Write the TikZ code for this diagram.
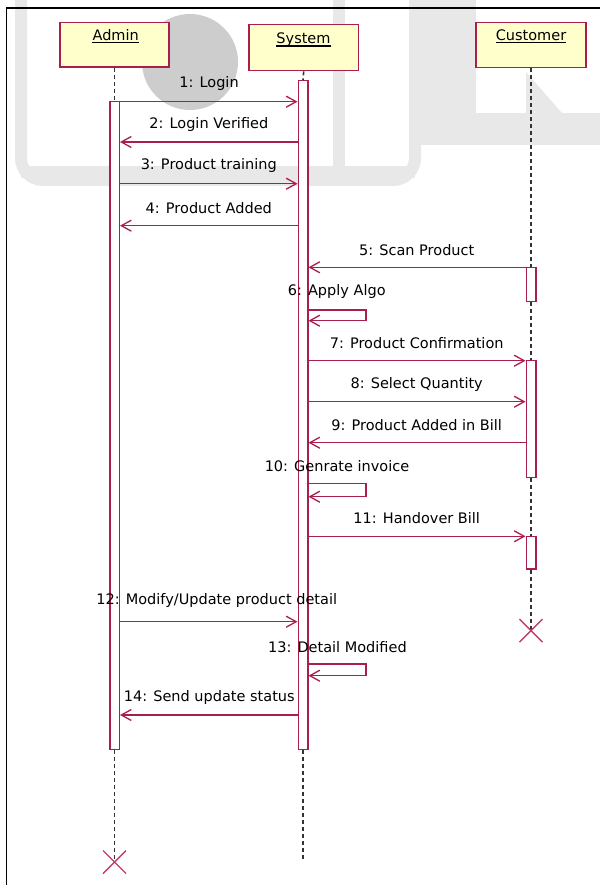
\documentclass[tikz,border=0pt]{standalone}
\usepackage{fontspec}
\setmainfont{DejaVu Sans}
\usetikzlibrary{arrows.meta}
\definecolor{umlred}{RGB}{170,30,78}
\definecolor{killred}{RGB}{195,60,110}
\definecolor{umlfill}{RGB}{255,255,204}
\definecolor{wmlight}{RGB}{232,232,232}
\definecolor{wmdark}{RGB}{205,205,205}
\begin{document}
\begin{tikzpicture}[x=1pt,y=-1pt,
  lbl/.style={font=\fontsize{14.5}{16}\selectfont, text=black, inner sep=0pt},
  objlbl/.style={font=\fontsize{14.5}{16}\selectfont, text=black, inner sep=0pt, anchor=base},
  obj/.style={draw=umlred, fill=umlfill, line width=1.7pt, inner sep=0pt},
  act/.style={draw=umlred, fill=white, line width=1.5pt, minimum width=9.5pt, inner sep=0pt},
  msg/.style={draw=umlred, line width=1.5pt, -{Straight Barb[length=10pt,width=11pt,line width=1.3pt]}},
  life/.style={draw=black!80, line width=1.6pt, dash pattern=on 4pt off 3pt},
  kill/.style={draw=killred, line width=1.4pt},
  wm/.style={draw=wmlight}]
\useasboundingbox (0,0) rectangle (600,885);
\fill[white] (0,0) rectangle (600,885);
% watermark
\draw[wm, line width=12pt, rounded corners=22pt] (21,-5) -- (21,180) -- (415,180) -- (415,-5);
\draw[wm, line width=12pt] (21,172) -- (415,172);
\draw[wm, line width=12pt] (339,-5) -- (339,176);
\fill[wmlight] (421,0) rectangle (476,145);
\fill[wmlight] (421,113) rectangle (600,145);
\fill[wmlight] (526,72) -- (562,113) -- (526,113) -- cycle;
\fill[wmdark] (190,62) circle[radius=48pt];
% frame
\draw[black, line width=1.8pt] (6.5,885) -- (6.5,8) -- (600,8);
% objects
\node[obj, minimum width=109pt, minimum height=44.5pt] (admin) at (114.5,44.75) {};
\node[obj, minimum width=109.5pt, minimum height=46pt] (system) at (303.7,47.5) {};
\node[obj, minimum width=110pt, minimum height=45pt] (customer) at (531,45) {};
\node[objlbl] (adminlbl) at (115.7,40.3) {Admin};
\node[objlbl] (systemlbl) at (303.5,43.6) {System};
\node[objlbl] (customerlbl) at (531,40.3) {Customer};
\draw[line width=1.3pt] ([yshift=-2.4pt]adminlbl.base west) -- ([yshift=-2.4pt]adminlbl.base east);
\draw[line width=1.3pt] ([yshift=-2.4pt]systemlbl.base west) -- ([yshift=-2.4pt]systemlbl.base east);
\draw[line width=1.3pt] ([yshift=-2.4pt]customerlbl.base west) -- ([yshift=-2.4pt]customerlbl.base east);
% activations
\node[act, minimum height=647.6pt] (aA) at (114.5,425.5) {};
\node[act, minimum height=668.6pt] (sA) at (303,415) {};
\node[act, minimum height=34.4pt] (cA1) at (531,284.5) {};
\node[act, minimum height=116.6pt] (cA2) at (531,419) {};
\node[act, minimum height=32.7pt] (cA3) at (531,552.65) {};
% lifelines
\coordinate (aEnd) at (114.5,862);
\coordinate (sEnd) at (303,862);
\coordinate (cEnd) at (531,630.7);
\draw[life] (admin.south) -- (aA.north);
\draw[life] (system.south) -- (sA.north);
\draw[life] (customer.south) -- (cA1.north);
\draw[life] (cA1.south) -- (cA2.north);
\draw[life] (cA2.south) -- (cA3.north);
\draw[life] (cA3.south) -- (cEnd);
\draw[life] (aA.south) -- (aEnd);
\draw[life] (sA.south) -- (sEnd);
\draw[kill] ([xshift=-11.5pt,yshift=11.5pt]aEnd) -- ([xshift=11.5pt,yshift=-11.5pt]aEnd);
\draw[kill] ([xshift=-11.5pt,yshift=-11.5pt]aEnd) -- ([xshift=11.5pt,yshift=11.5pt]aEnd);
\draw[kill] ([xshift=-11.5pt,yshift=11.5pt]cEnd) -- ([xshift=11.5pt,yshift=-11.5pt]cEnd);
\draw[kill] ([xshift=-11.5pt,yshift=-11.5pt]cEnd) -- ([xshift=11.5pt,yshift=11.5pt]cEnd);
% message rows
\coordinate (y1) at (0,101.7);
\coordinate (y2) at (0,142);
\coordinate (y3) at (0,183.7);
\coordinate (y4) at (0,225.7);
\coordinate (y5) at (0,267.3);
\coordinate (y6a) at (0,310);
\coordinate (y6b) at (0,320.7);
\coordinate (y7) at (0,360.7);
\coordinate (y8) at (0,401.7);
\coordinate (y9) at (0,442.7);
\coordinate (y10a) at (0,483.3);
\coordinate (y10b) at (0,496.7);
\coordinate (y11) at (0,536.3);
\coordinate (y12) at (0,621.7);
\coordinate (y13a) at (0,664);
\coordinate (y13b) at (0,675.7);
\coordinate (y14) at (0,715);
\coordinate (xself) at (366,0);
% messages
\draw[msg] (aA.east |- y1) -- (sA.west |- y1);
\draw[msg] (sA.west |- y2) -- (aA.east |- y2);
\draw[msg] (aA.east |- y3) -- (sA.west |- y3);
\draw[msg] (sA.west |- y4) -- (aA.east |- y4);
\draw[msg] (cA1.west |- y5) -- (sA.east |- y5);
\draw[msg] (sA.east |- y6a) -- (xself |- y6a) -- (xself |- y6b) -- (sA.east |- y6b);
\draw[msg] (sA.east |- y7) -- (cA2.west |- y7);
\draw[msg] (sA.east |- y8) -- (cA2.west |- y8);
\draw[msg] (cA2.west |- y9) -- (sA.east |- y9);
\draw[msg] (sA.east |- y10a) -- (xself |- y10a) -- (xself |- y10b) -- (sA.east |- y10b);
\draw[msg] (sA.east |- y11) -- (cA3.west |- y11);
\draw[msg] (aA.east |- y12) -- (sA.west |- y12);
\draw[msg] (sA.east |- y13a) -- (xself |- y13a) -- (xself |- y13b) -- (sA.east |- y13b);
\draw[msg] (sA.west |- y14) -- (aA.east |- y14);
% labels
\node[lbl] (l1) at (209,84) {1: Login};
\node[lbl] (l2) at (208.8,125) {2: Login Verified};
\node[lbl] (l3) at (208.8,166) {3: Product training};
\node[lbl] (l4) at (208.8,208.3) {4: Product Added};
\node[lbl] (l5) at (416.7,250) {5: Scan Product};
\node[lbl] (l6) at (336.7,291) {6: Apply Algo};
\node[lbl] (l7) at (416.7,343) {7: Product Confirmation};
\node[lbl] (l8) at (416.7,384) {8: Select Quantity};
\node[lbl] (l9) at (416.7,425) {9: Product Added in Bill};
\node[lbl] (l10) at (337,465.7) {10: Genrate invoice};
\node[lbl] (l11) at (416.7,518.3) {11: Handover Bill};
\node[lbl] (l12) at (216.7,600.7) {12: Modify/Update product detail};
\node[lbl] (l13) at (337.4,646.7) {13: Detail Modified};
\node[lbl] (l14) at (209.3,697.3) {14: Send update status};
\end{tikzpicture}
\end{document}
